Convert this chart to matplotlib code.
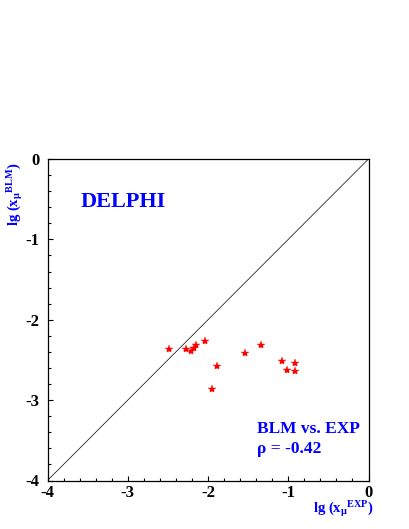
import matplotlib
matplotlib.use("Agg")
import matplotlib.pyplot as plt
from matplotlib.ticker import MultipleLocator

# Data
lg_x_exp = [-2.49, -2.28, -2.21, -2.17, -2.15, -2.04, -1.89, -1.95, -1.54, -1.34, -1.08, -1.02, -0.92, -0.92]
lg_x_blm = [-2.37, -2.36, -2.39, -2.35, -2.31, -2.27, -2.58, -2.86, -2.41, -2.31, -2.51, -2.62, -2.54, -2.64]
diag = [-4, 0]
tick_vals = [-4, -3, -2, -1, 0]
tick_labels = ["-4", "-3", "-2", "-1", "0"]

plt.rcParams['font.family'] = ['Liberation Serif', 'DejaVu Serif']
plt.rcParams['font.weight'] = 'bold'
plt.rcParams['mathtext.fontset'] = 'custom'
plt.rcParams['mathtext.rm'] = 'Liberation Serif:bold'
plt.rcParams['mathtext.it'] = 'Liberation Serif:bold'
plt.rcParams['mathtext.bf'] = 'Liberation Serif:bold'

W, H = 409, 529
fig = plt.figure(figsize=(W / 100, H / 100), dpi=100)
ax = fig.add_axes([47.5 / W, 48.5 / H, 321 / W, 321.5 / H])

ax.plot(diag, diag, color='black', lw=0.5)
ax.plot(lg_x_exp, lg_x_blm, linestyle='none', marker='*', color='red',
        markersize=6, markeredgewidth=0.3)

ax.set_xlim(-4, 0)
ax.set_ylim(-4, 0)
ax.set_xticks(tick_vals)
ax.set_xticklabels(tick_labels)
ax.set_yticks(tick_vals)
ax.set_yticklabels(tick_labels)
ax.xaxis.set_minor_locator(MultipleLocator(0.2))
ax.yaxis.set_minor_locator(MultipleLocator(0.2))
ax.tick_params(which='both', direction='in', top=False, right=False, width=0.8)
ax.tick_params(which='major', length=3.8, labelsize=12)
ax.tick_params(which='minor', length=1.9)
ax.tick_params(axis='x', which='major', pad=3.0)
ax.tick_params(axis='y', which='major', pad=6)
for lab in ax.get_xticklabels() + ax.get_yticklabels():
    lab.set_fontweight('bold')
for s in ax.spines.values():
    s.set_linewidth(0.9)

blue = '#0000ff'
fig.text(81 / W, (H - 207) / H, 'DELPHI', color=blue, fontsize=16,
         fontweight='bold', ha='left', va='baseline')
fig.text(257 / W, (H - 433) / H, 'BLM vs. EXP', color=blue, fontsize=12.5,
         fontweight='bold', ha='left', va='baseline')
fig.text(257 / W, (H - 453) / H, 'ρ = -0.42', color=blue, fontsize=12.5,
         fontweight='bold', ha='left', va='baseline')

fig.text(374 / W, (H - 513) / H, r'lg (x$_{\mu}$$^{\mathrm{EXP}}$)', color=blue,
         fontsize=10.5, fontweight='bold', ha='right', va='baseline')
fig.text(15 / W, (H - 162) / H, r'lg (x$_{\mu}$$^{\mathrm{BLM}}$)', color=blue,
         fontsize=10.5, fontweight='bold', ha='center', va='top', rotation=90)

fig.savefig('out.png', dpi=100)
